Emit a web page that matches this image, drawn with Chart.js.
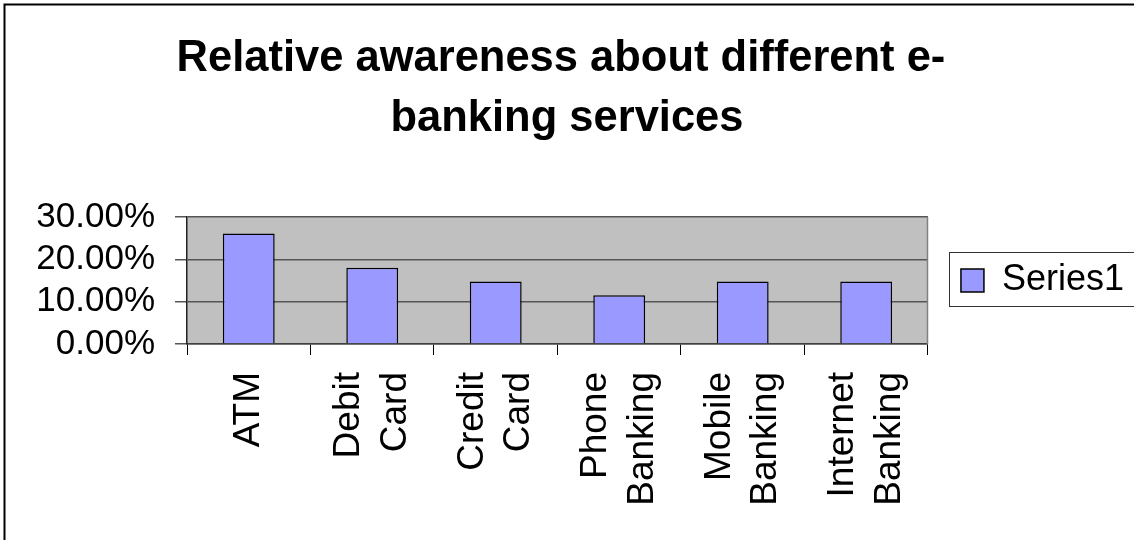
<!DOCTYPE html>
<html>
<head>
<meta charset="utf-8">
<script src="https://cdn.jsdelivr.net/npm/chart.js@4/dist/chart.umd.min.js"></script>
<style>
  html, body { margin: 0; padding: 0; background: #ffffff; }
  #c { display: block; }
</style>
</head>
<body>
<canvas id="c" width="1134" height="540"></canvas>
<script>
// ---- data ----
const titleLines = ['Relative awareness about different e- ', 'banking services'];
const categories = ['ATM', 'Debit Card', 'Credit Card', 'Phone Banking', 'Mobile Banking', 'Internet Banking'];
const seriesName = 'Series1';
const seriesValues = [26.1, 18.0, 14.8, 11.5, 14.8, 14.8];
const yTickLabels = ['0.00%', '10.00%', '20.00%', '30.00%'];

// ---- build labels (word per line, rotated) ----
const xLabels = categories.map(c => {
  const parts = c.split(' ');
  return parts.length > 1 ? parts : ['', parts[0]];
});

const FONT = "'Liberation Sans', Arial, Helvetica, sans-serif";
Chart.defaults.font.family = FONT;
Chart.defaults.color = '#000000';

const X_FONT = 37;
const X_LH = 46.8;

const decor = {
  id: 'decor',
  beforeDraw(chart) {
    const { ctx, chartArea: a } = chart;
    ctx.save();
    ctx.fillStyle = '#ffffff';
    ctx.fillRect(0, 0, chart.width, chart.height);
    ctx.fillStyle = '#C0C0C0';
    ctx.fillRect(a.left, a.top, a.right - a.left, a.bottom - a.top);
    ctx.restore();
  },
  afterDraw(chart) {
    const { ctx, chartArea: a } = chart;
    ctx.save();
    // plot area right edge
    ctx.strokeStyle = '#808080';
    ctx.lineWidth = 1.5;
    ctx.beginPath();
    ctx.moveTo(Math.round(a.right) - 0.5, a.top);
    ctx.lineTo(Math.round(a.right) - 0.5, a.bottom);
    ctx.stroke();
    // legend frame
    const lg = chart.legend;
    if (lg && lg.legendHitBoxes && lg.legendHitBoxes.length) {
      const hb = lg.legendHitBoxes[0];
      const left = hb.left - 12;
      const top = hb.top - 10.5;
      const h = 54;
      ctx.strokeStyle = '#333333';
      ctx.lineWidth = 1;
      ctx.strokeRect(Math.round(left) + 0.5, Math.round(top) + 0.5, chart.width, h);
    }
    // outer frame
    ctx.strokeStyle = '#000000';
    ctx.lineWidth = 2;
    ctx.strokeRect(4.5, 4.5, chart.width + 20, chart.height + 20);
    ctx.restore();
  }
};

new Chart(document.getElementById('c'), {
  type: 'bar',
  data: {
    labels: xLabels,
    datasets: [{
      label: seriesName,
      data: seriesValues,
      backgroundColor: '#9999FF',
      borderColor: '#000000',
      borderWidth: 1.5,
      borderSkipped: 'bottom',
      barPercentage: 0.42,
      categoryPercentage: 1.0
    }]
  },
  options: {
    responsive: false,
    animation: false,
    devicePixelRatio: 1,
    layout: { padding: 0 },
    plugins: {
      tooltip: { enabled: false },
      title: {
        display: true,
        text: titleLines,
        color: '#000000',
        font: { size: 43.5, weight: 'bold', lineHeight: 1.38, family: FONT },
        padding: { top: 29, bottom: 68 }
      },
      legend: {
        display: true,
        position: 'right',
        align: 'center',
        fullSize: false,
        labels: {
          boxWidth: 23,
          boxHeight: 23,
          padding: 33,
          color: '#000000',
          font: { size: 36, family: FONT }
        }
      }
    },
    scales: {
      x: {
        type: 'category',
        offset: true,
        grid: {
          display: true,
          offset: true,
          drawOnChartArea: false,
          drawTicks: true,
          tickLength: 11,
          color: '#000000',
          lineWidth: 1
        },
        border: { display: true, color: '#404040', width: 1.5 },
        ticks: {
          autoSkip: false,
          minRotation: 90,
          maxRotation: 90,
          padding: 17,
          labelOffset: -X_LH / 2,
          color: '#000000',
          font: (c) => {
            const lbl = c.tick && c.tick.label;
            const single = Array.isArray(lbl) && lbl[0] === '';
            return { size: X_FONT, family: FONT, lineHeight: (single ? X_LH / 2 : X_LH) + 'px' };
          }
        },
        afterFit(scale) { scale.height = 196; }
      },
      y: {
        min: 0,
        max: 30,
        grid: {
          display: true,
          drawOnChartArea: true,
          drawTicks: true,
          tickLength: 12,
          color: '#555555',
          lineWidth: 1.5
        },
        border: { display: true, color: '#222222', width: 1.5 },
        ticks: {
          autoSkip: false,
          stepSize: 10,
          padding: 20,
          color: '#000000',
          font: { size: 35, family: FONT },
          callback: (v, i) => yTickLabels[i]
        },
        afterFit(scale) { scale.width = 187; }
      }
    }
  },
  plugins: [decor]
});
</script>
</body>
</html>
